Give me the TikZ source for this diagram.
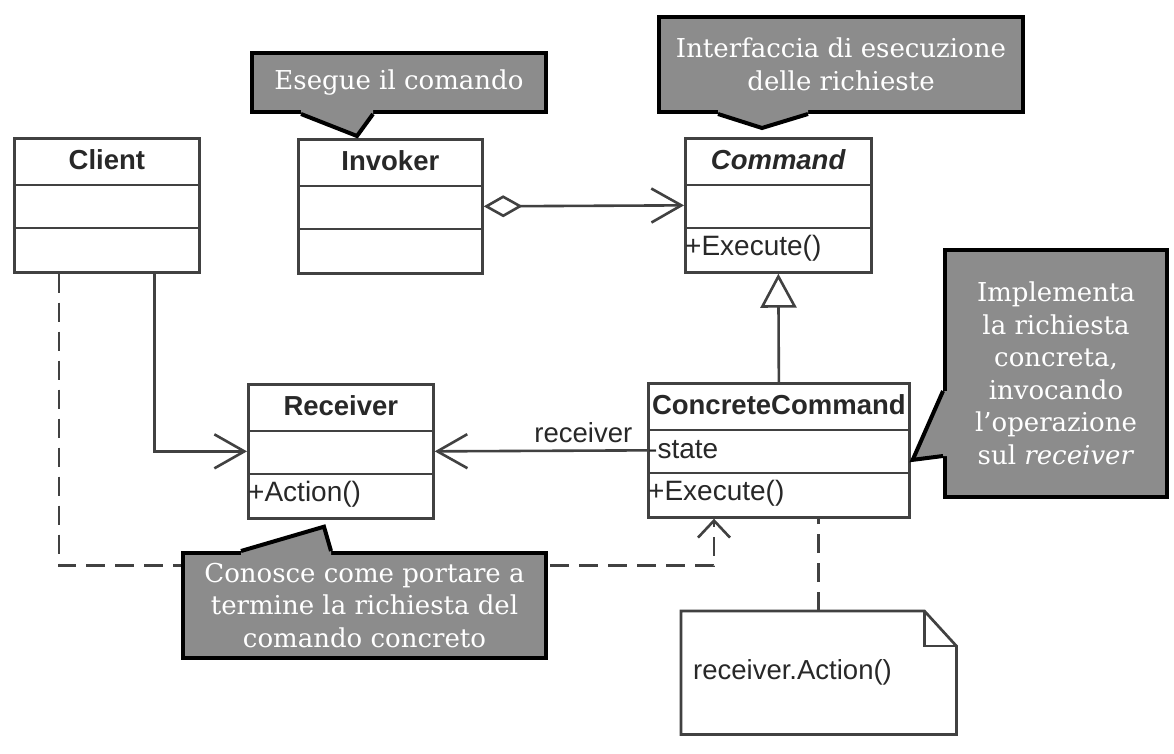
\documentclass[tikz,border=0pt]{standalone}
\usepackage{fontspec}
\setmainfont{DejaVu Serif}
\setsansfont{Liberation Sans}
\usepackage{tikz}
\usetikzlibrary{arrows.meta, calc}
\definecolor{umlline}{RGB}{65,65,65}
\definecolor{umltext}{RGB}{40,40,40}
\definecolor{notegray}{RGB}{140,140,140}
\tikzstyle{callout} = [rectangle, draw=black, fill=notegray, line width=4pt, text=white, align=center, font=\fontsize{26}{32.5}\selectfont, inner sep=0pt]
\tikzstyle{pointer} = [draw=black, line width=4pt, line join=miter]

% one UML class box: name, top left corner, width, title, attribute, operation
\newcommand{\umlclass}[6]{%
  \node[classbox, minimum width=#3] (#1) at #2 {};
  \node[classtitle] (#1title) at ($(#1.north)+(0,23)$) {#4};
  \draw[classline] ($(#1.north west)+(0,48)$) -- ($(#1.north east)+(0,48)$);
  \draw[classline] ($(#1.north west)+(0,91)$) -- ($(#1.north east)+(0,91)$);
  \node[member] (#1attr) at ($(#1.north west)+(0,68)$) {#5};
  \node[member] (#1op) at ($(#1.north west)+(0,111)$) {#6};
}

\begin{document}
\begin{tikzpicture}[x=1pt, y=-1pt,
classbox/.style={rectangle, draw=umlline, line width=2.7pt, minimum height=134pt, anchor=north west, inner sep=0pt},
classline/.style={draw=umlline, line width=2.7pt},
classtitle/.style={font=\sffamily\bfseries\fontsize{27.5}{30}\selectfont, text=umltext},
member/.style={anchor=west, inner xsep=1pt, font=\sffamily\fontsize{28}{30}\selectfont, text=umltext},
assoc/.style={draw=umlline, line width=2.6pt, -{Straight Barb[length=30pt, width=34pt]}},
aggr/.style={draw=umlline, line width=2.6pt, {Diamond[open, length=39pt, width=22pt]}-{Straight Barb[length=30pt, width=34pt]}},
inherit/.style={draw=umlline, line width=2.6pt, -{Triangle[open, length=34pt, width=36pt]}},
depend/.style={draw=umlline, line width=2.6pt, dash pattern=on 19pt off 10pt, -{Straight Barb[length=17pt, width=32pt]}},
notelink/.style={draw=umlline, line width=2.6pt, dash pattern=on 19pt off 10pt},
]
\useasboundingbox[fill=white] (0,0) rectangle (1174,754);

%Classes
\umlclass{client}{(13,137)}{185pt}{Client}{}{}
\umlclass{invoker}{(297,138)}{184pt}{Invoker}{}{}
\umlclass{command}{(684,137)}{186pt}{\textit{Command}}{}{+Execute()}
\umlclass{receiver}{(247,383)}{185pt}{Receiver}{}{+Action()}
\umlclass{concrete}{(647,382)}{261pt}{ConcreteCommand}{-state}{+Execute()}

%Note
\node[rectangle, minimum width=275pt, minimum height=123pt, anchor=north west, inner xsep=12pt, text width=251pt, align=left, font=\sffamily\fontsize{27.5}{30}\selectfont, text=umltext] (note) at (681,611) {receiver.Action()};
\draw[classline] (note.north west) -- ($(note.north east)+(-32,0)$) -- ($(note.north east)+(0,35)$) -- (note.south east) -- (note.south west) -- cycle;
\draw[classline] ($(note.north east)+(-32,0)$) -- ++(0,35) -- ($(note.north east)+(0,35)$);

%Lines
\draw[aggr] (invoker.east) -- (command.west);
\draw[inherit] (concrete.north) -- (command.south);
\draw[assoc] (concrete.west) -- (receiver.east) node[pos=0.3, above=7pt, font=\sffamily\fontsize{27.5}{30}\selectfont, text=umltext, inner sep=0pt]{receiver};
\draw[assoc] ($(client.south east)+(-46,0)$) |- (receiver.west);
\draw[depend] ($(client.south west)+(46,0)$) -- ++(0,292) -| ($(concrete.south west)+(67,0)$);
\draw[notelink] (note.north) -- (note.north |- concrete.south);

%Callouts
\node[callout, minimum width=294pt, minimum height=59pt] (esegue) at (399,82.5) {Esegue il comando};
\fill[notegray] ($(esegue.south west)+(51,0)$) -- ($(invoker.north west)+(60,-2)$) -- ($(esegue.south west)+(123,0)$) -- ($(esegue.south west)+(123,-5)$) -- ($(esegue.south west)+(51,-5)$) -- cycle;
\draw[pointer] ($(esegue.south west)+(51,0)$) -- ($(invoker.north west)+(60,-2)$) -- ($(esegue.south west)+(123,0)$);

\node[callout, minimum width=364pt, minimum height=95pt] (interfaccia) at (841,64.5) {Interfaccia di esecuzione\\delle richieste};
\fill[notegray] ($(interfaccia.south west)+(61,0)$) -- ($(command.north west)+(78,-9)$) -- ($(interfaccia.south west)+(151,0)$) -- ($(interfaccia.south west)+(151,-5)$) -- ($(interfaccia.south west)+(61,-5)$) -- cycle;
\draw[pointer] ($(interfaccia.south west)+(61,0)$) -- ($(command.north west)+(78,-9)$) -- ($(interfaccia.south west)+(151,0)$);

\node[callout, minimum width=222pt, minimum height=247pt] (implementa) at (1056,373.5) {Implementa\\la richiesta\\concreta,\\invocando\\l’operazione\\sul \textit{receiver}};
\fill[notegray] ($(implementa.north west)+(0,143)$) -- ($(concrete.east)+(2,9.5)$) -- ($(implementa.north west)+(0,208)$) -- ($(implementa.north west)+(5,208)$) -- ($(implementa.north west)+(5,143)$) -- cycle;
\draw[pointer] ($(implementa.north west)+(0,143)$) -- ($(concrete.east)+(2,9.5)$) -- ($(implementa.north west)+(0,208)$);

\node[callout, minimum width=363pt, minimum height=105pt] (conosce) at (364.5,605.5) {Conosce come portare a\\termine la richiesta del\\comando concreto};
\fill[notegray] ($(conosce.north west)+(60,0)$) -- ($(receiver.south west)+(77,7)$) -- ($(conosce.north west)+(150,0)$) -- ($(conosce.north west)+(150,5)$) -- ($(conosce.north west)+(60,5)$) -- cycle;
\draw[pointer] ($(conosce.north west)+(60,0)$) -- ($(receiver.south west)+(77,7)$) -- ($(conosce.north west)+(150,0)$);

\end{tikzpicture}
\end{document}
